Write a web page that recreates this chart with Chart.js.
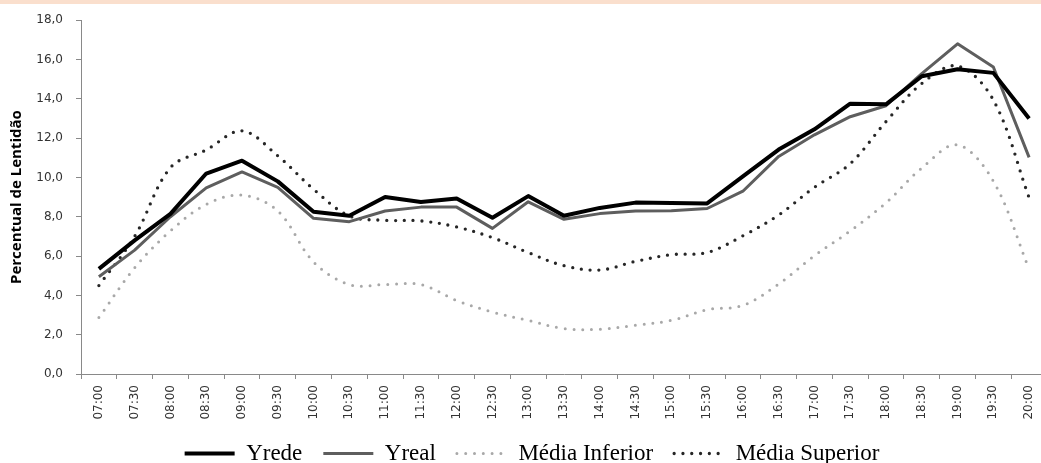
<!DOCTYPE html>
<html>
<head>
<meta charset="utf-8">
<script src="https://cdn.jsdelivr.net/npm/chart.js@4.4.0/dist/chart.umd.min.js"></script>
<style>
html,body{margin:0;padding:0;background:#fff;overflow:hidden;width:1041px;height:463px;}
#wrap{position:absolute;left:0;top:0;width:1064px;height:475px;}
#strip{position:absolute;left:0;top:0;width:1041px;height:4px;background:#FADFCD;z-index:2;}
</style>
</head>
<body>
<div id="strip"></div>
<div id="wrap"><canvas id="c" width="1064" height="475"></canvas></div>
<script>
const categories = ['07:00','07:30','08:00','08:30','09:00','09:30','10:00','10:30','11:00','11:30','12:00','12:30','13:00','13:30','14:00','14:30','15:00','15:30','16:00','16:30','17:00','17:30','18:00','18:30','19:00','19:30','20:00'];
const yrede = [5.35, 6.8, 8.15, 10.2, 10.85, 9.8, 8.25, 8.05, 9.0, 8.75, 8.93, 7.95, 9.05, 8.05, 8.45, 8.72, 8.7, 8.68, 10.05, 11.42, 12.45, 13.75, 13.72, 15.15, 15.5, 15.32, 13.0];
const yreal = [4.95, 6.3, 8.0, 9.47, 10.28, 9.5, 7.92, 7.75, 8.29, 8.49, 8.49, 7.41, 8.76, 7.87, 8.16, 8.29, 8.3, 8.42, 9.3, 11.07, 12.17, 13.09, 13.65, 15.28, 16.8, 15.62, 11.02];
const mediaInferior = [2.87, 5.4, 7.28, 8.63, 9.1, 8.3, 5.7, 4.55, 4.55, 4.55, 3.74, 3.15, 2.73, 2.31, 2.28, 2.48, 2.73, 3.27, 3.49, 4.58, 6.02, 7.28, 8.71, 10.48, 11.66, 9.81, 5.34];
const mediaSuperior = [4.5, 7.0, 10.5, 11.4, 12.37, 11.1, 9.4, 8.04, 7.82, 7.79, 7.48, 6.94, 6.18, 5.51, 5.29, 5.73, 6.07, 6.18, 7.03, 8.09, 9.5, 10.7, 12.84, 14.78, 15.67, 13.94, 8.97];
const seriesNames = ['Yrede', 'Yreal', 'Média Inferior', 'Média Superior'];
const yTitle = 'Percentual de Lentidão';

const axisColor = '#898989';
new Chart(document.getElementById('c'), {
  type: 'line',
  data: {
    labels: categories,
    datasets: [
      { label: seriesNames[0], data: yrede, borderColor: '#000000', backgroundColor: '#000000', borderWidth: 4, tension: 0, pointRadius: 0, borderJoinStyle: 'round' },
      { label: seriesNames[1], data: yreal, borderColor: '#5e5e5e', backgroundColor: '#5e5e5e', borderWidth: 3, tension: 0, pointRadius: 0, borderJoinStyle: 'round' },
      { label: seriesNames[2], data: mediaInferior, borderColor: '#a8a8a8', backgroundColor: '#a8a8a8', borderWidth: 3, borderDash: [0, 8.8], borderCapStyle: 'round', tension: 0.35, pointRadius: 0 },
      { label: seriesNames[3], data: mediaSuperior, borderColor: '#262626', backgroundColor: '#262626', borderWidth: 3.3, borderDash: [0, 8.8], borderCapStyle: 'round', tension: 0.35, pointRadius: 0 }
    ]
  },
  options: {
    responsive: false,
    animation: false,
    devicePixelRatio: 1,
    layout: { padding: { top: 18, left: 0, right: 0, bottom: 0 } },
    plugins: {
      tooltip: { enabled: false },
      legend: {
        position: 'bottom',
        labels: {
          usePointStyle: true,
          pointStyle: 'line',
          pointStyleWidth: 50,
          padding: 21,
          color: '#000',
          font: { family: 'Liberation Serif', size: 23 },
          sort: (a, b) => a.datasetIndex - b.datasetIndex,
          generateLabels: chart => Chart.defaults.plugins.legend.labels.generateLabels(chart).map(item => {
            const ds = chart.data.datasets[item.datasetIndex];
            item.lineDash = ds.borderDash || [];
            item.lineCap = ds.borderCapStyle || 'butt';
            item.lineWidth = ds.borderWidth;
            item.strokeStyle = ds.borderColor;
            item.pointStyle = 'line';
            return item;
          })
        }
      }
    },
    scales: {
      x: {
        type: 'category',
        offset: true,
        grid: { display: true, drawOnChartArea: false, drawTicks: true, tickLength: 5, offset: true, color: axisColor },
        border: { display: true, color: axisColor, width: 1 },
        ticks: { autoSkip: false, minRotation: 90, maxRotation: 90, padding: 6, color: '#333', font: { family: 'DejaVu Sans', size: 12 } },
        afterFit: s => { s.height = 47; }
      },
      y: {
        position: 'left',
        min: 0, max: 18,
        grid: { display: true, drawOnChartArea: false, drawTicks: true, tickLength: 5, color: axisColor },
        border: { display: true, color: axisColor, width: 1 },
        ticks: { stepSize: 2, padding: 13, color: '#333', font: { family: 'DejaVu Sans', size: 12 },
                 callback: v => Number(v).toFixed(1).replace('.', ',') },
        title: { display: true, text: yTitle, color: '#000', font: { family: 'Open Sans', weight: 'bold', size: 15 }, padding: { top: 8, bottom: 0 } },
        afterFit: s => { s.width = 81; }
      },
      y2: {
        position: 'right',
        display: true,
        grid: { display: false },
        border: { display: false },
        ticks: { display: false },
        afterFit: s => { s.width = 17; }
      }
    }
  }
});
</script>
</body>
</html>
